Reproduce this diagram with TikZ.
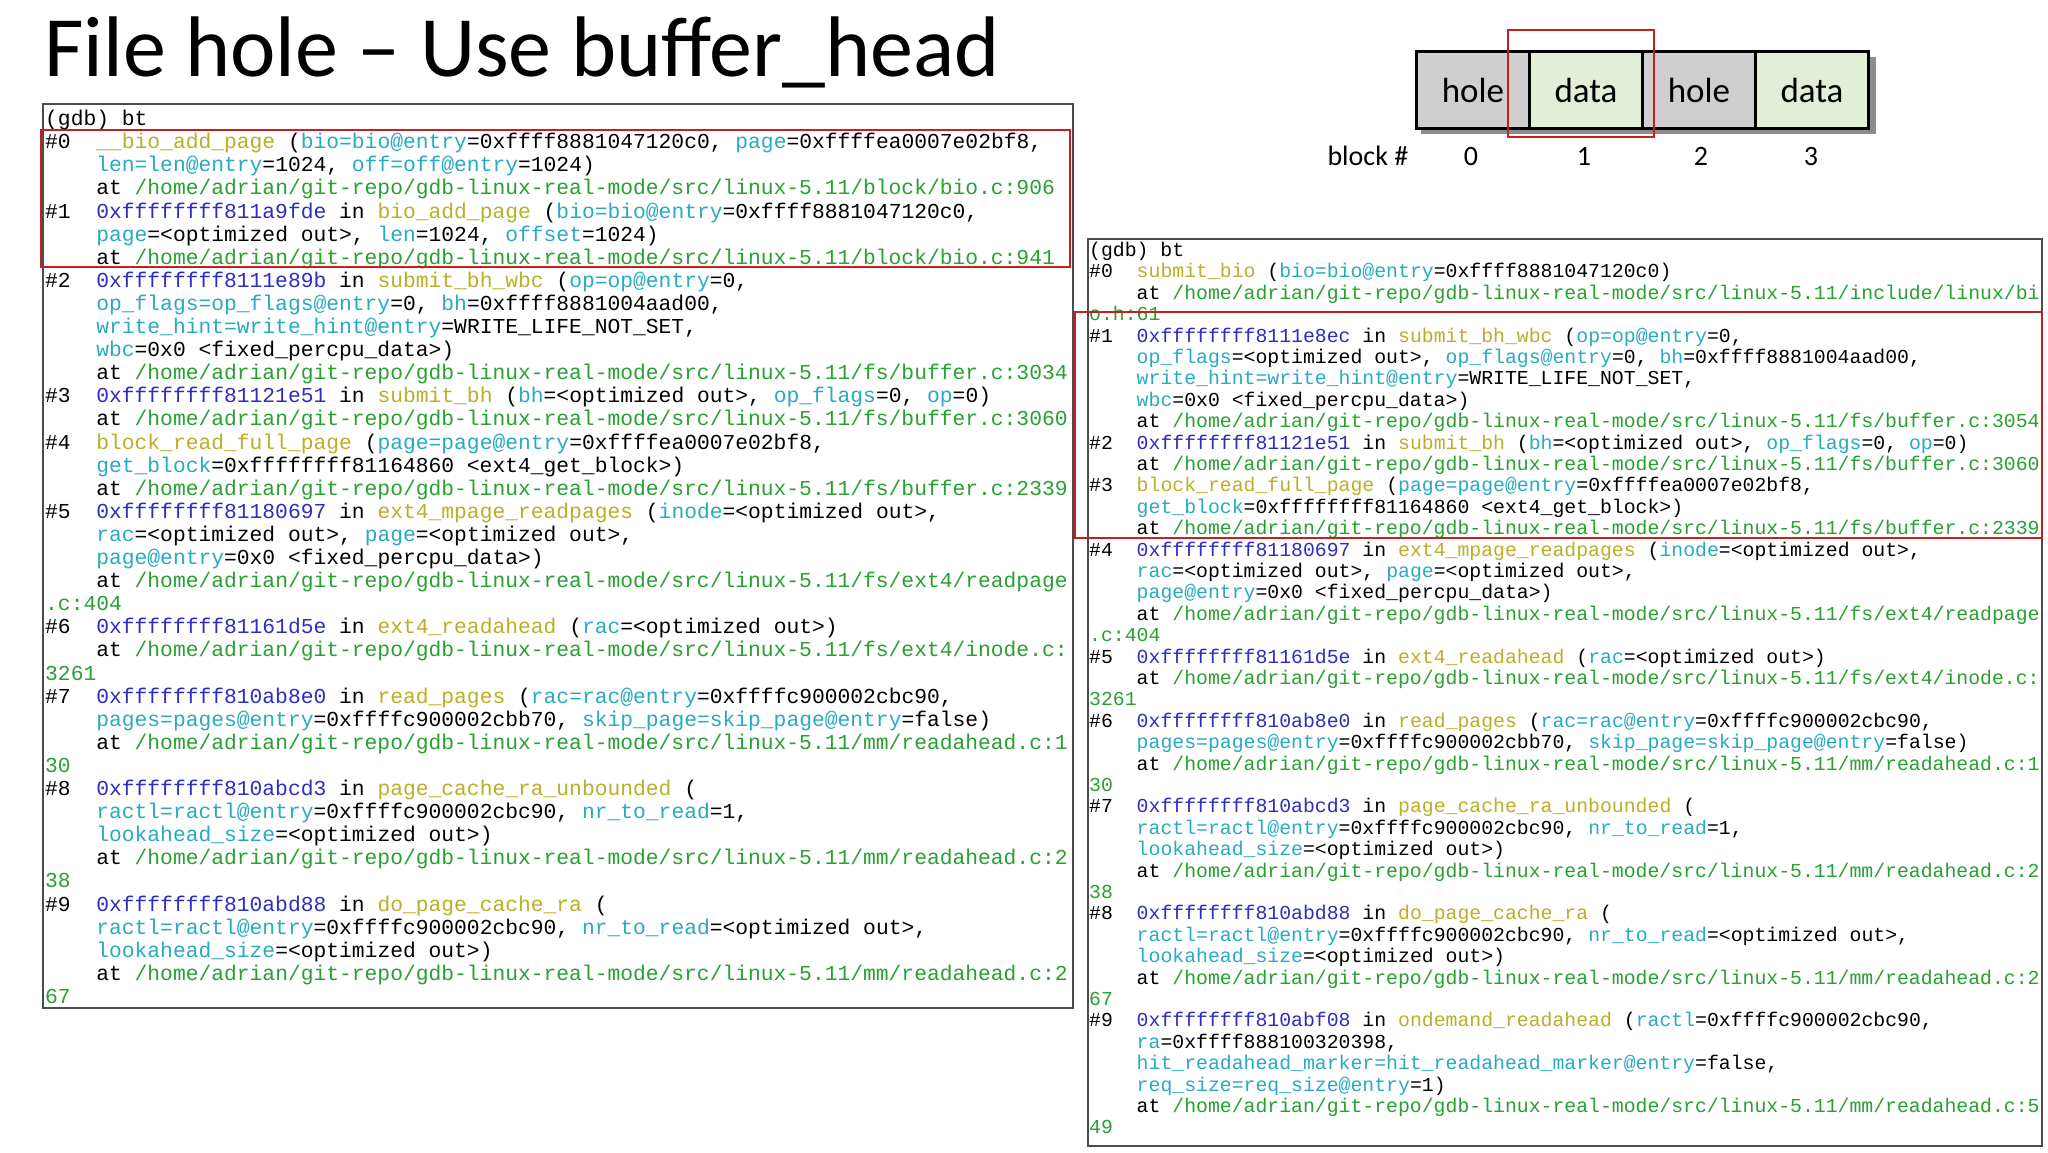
\documentclass[tikz,border=0pt]{standalone}
\usepackage{fontspec}
\setmainfont{Carlito}
\newfontfamily\codefont{Liberation Mono}
\definecolor{fnc}{RGB}{185,175,40}
\definecolor{pac}{RGB}{40,170,195}
\definecolor{adc}{RGB}{45,45,190}
\definecolor{ptc}{RGB}{40,160,50}
\definecolor{redc}{RGB}{200,30,30}
\definecolor{holec}{RGB}{207,207,207}
\definecolor{datac}{RGB}{226,238,213}
\newcommand\F[1]{\textcolor{fnc}{#1}}
\newcommand\A[1]{\textcolor{adc}{#1}}
\newcommand\V[1]{\textcolor{pac}{#1}}
\newcommand\G[1]{\textcolor{ptc}{#1}}
\newcommand\atp[1]{at \textcolor{ptc}{/home/adrian/git-repo/gdb-linux-real-mode/src/linux-5.11/#1}}
\newcommand\I{\phantom{xxxx}}
\newcommand\N[1]{\#{#1}\phantom{xx}}
\newcommand\opt{<optimized out>}
\begin{document}
\begin{tikzpicture}[x=1pt,y=-1pt,
  panel/.style={draw=black!70,line width=1.2pt},
  hl/.style={draw=redc,line width=1.6pt},
  codetext/.style={anchor=north west,inner sep=0pt,align=left},
  cell/.style={draw=black,line width=3pt,minimum width=113pt,minimum height=77pt,inner sep=0pt,anchor=north west,font=\fontsize{35}{38}\selectfont},
  lbl/.style={font=\fontsize{28}{30}\selectfont,anchor=base}]
\useasboundingbox (0,0) rectangle (2048,1152);
\fill[white] (0,0) rectangle (2048,1152);
\node[anchor=base west,inner sep=0pt,font=\fontsize{86}{90}\selectfont] (title) at (44,76) {File hole -- Use buffer\_head};
% blocks
\fill[black!45] (1421,57) rectangle (1876,134);
\node[cell,fill=holec] (c0) at (1415,50) {hole};
\node[cell,fill=datac] (c1) at (1528,50) {data};
\node[cell,fill=holec] (c2) at (1641,50) {hole};
\node[cell,fill=datac] (c3) at (1754,50) {data};
\draw[hl] (1508,30) rectangle (1654,137);
\node[lbl,anchor=base west] (bn) at (1324,165) {block \#};
\node[lbl] (n0) at (1471,165) {0};
\node[lbl] (n1) at (1584,165) {1};
\node[lbl] (n2) at (1701,165) {2};
\node[lbl] (n3) at (1811,165) {3};
% left panel
\draw[panel] (43,104) rectangle (1073,1008);
\begin{scope}
\clip (43,104) rectangle (1073,1008);
\node[codetext,font=\codefont\fontsize{21.3}{23.1}\selectfont] (lt) at (45,110) {(gdb) bt\\
\N0\F{\_\_bio\_add\_page} (\V{bio=bio@entry}=0xffff8881047120c0, \V{page}=0xffffea0007e02bf8,\\
\I\V{len=len@entry}=1024, \V{off=off@entry}=1024)\\
\I\atp{block/bio.c:906}\\
\N1\A{0xffffffff811a9fde} in \F{bio\_add\_page} (\V{bio=bio@entry}=0xffff8881047120c0,\\
\I\V{page}=\opt, \V{len}=1024, \V{offset}=1024)\\
\I\atp{block/bio.c:941}\\
\N2\A{0xffffffff8111e89b} in \F{submit\_bh\_wbc} (\V{op=op@entry}=0,\\
\I\V{op\_flags=op\_flags@entry}=0, \V{bh}=0xffff8881004aad00,\\
\I\V{write\_hint=write\_hint@entry}=WRITE\_LIFE\_NOT\_SET,\\
\I\V{wbc}=0x0 <fixed\_percpu\_data>)\\
\I\atp{fs/buffer.c:3034}\\
\N3\A{0xffffffff81121e51} in \F{submit\_bh} (\V{bh}=\opt, \V{op\_flags}=0, \V{op}=0)\\
\I\atp{fs/buffer.c:3060}\\
\N4\F{block\_read\_full\_page} (\V{page=page@entry}=0xffffea0007e02bf8,\\
\I\V{get\_block}=0xffffffff81164860 <ext4\_get\_block>)\\
\I\atp{fs/buffer.c:2339}\\
\N5\A{0xffffffff81180697} in \F{ext4\_mpage\_readpages} (\V{inode}=\opt,\\
\I\V{rac}=\opt, \V{page}=\opt,\\
\I\V{page@entry}=0x0 <fixed\_percpu\_data>)\\
\I\atp{fs/ext4/readpage}\\
\G{.c:404}\\
\N6\A{0xffffffff81161d5e} in \F{ext4\_readahead} (\V{rac}=\opt)\\
\I\atp{fs/ext4/inode.c:}\\
\G{3261}\\
\N7\A{0xffffffff810ab8e0} in \F{read\_pages} (\V{rac=rac@entry}=0xffffc900002cbc90,\\
\I\V{pages=pages@entry}=0xffffc900002cbb70, \V{skip\_page=skip\_page@entry}=false)\\
\I\atp{mm/readahead.c:1}\\
\G{30}\\
\N8\A{0xffffffff810abcd3} in \F{page\_cache\_ra\_unbounded} (\\
\I\V{ractl=ractl@entry}=0xffffc900002cbc90, \V{nr\_to\_read}=1,\\
\I\V{lookahead\_size}=\opt)\\
\I\atp{mm/readahead.c:2}\\
\G{38}\\
\N9\A{0xffffffff810abd88} in \F{do\_page\_cache\_ra} (\\
\I\V{ractl=ractl@entry}=0xffffc900002cbc90, \V{nr\_to\_read}=\opt,\\
\I\V{lookahead\_size}=\opt)\\
\I\atp{mm/readahead.c:2}\\
\G{67}};
\end{scope}
\draw[hl] (41,130) rectangle (1070,267);
% right panel
\draw[panel] (1088,239) rectangle (2042,1146);
\begin{scope}
\clip (1088,239) rectangle (2042,1146);
\node[codetext,font=\codefont\fontsize{19.8}{21.4}\selectfont] (rt) at (1089,242) {(gdb) bt\\
\N0\F{submit\_bio} (\V{bio=bio@entry}=0xffff8881047120c0)\\
\I\atp{include/linux/bi}\\
\G{o.h:61}\\
\N1\A{0xffffffff8111e8ec} in \F{submit\_bh\_wbc} (\V{op=op@entry}=0,\\
\I\V{op\_flags}=\opt, \V{op\_flags@entry}=0, \V{bh}=0xffff8881004aad00,\\
\I\V{write\_hint=write\_hint@entry}=WRITE\_LIFE\_NOT\_SET,\\
\I\V{wbc}=0x0 <fixed\_percpu\_data>)\\
\I\atp{fs/buffer.c:3054}\\
\N2\A{0xffffffff81121e51} in \F{submit\_bh} (\V{bh}=\opt, \V{op\_flags}=0, \V{op}=0)\\
\I\atp{fs/buffer.c:3060}\\
\N3\F{block\_read\_full\_page} (\V{page=page@entry}=0xffffea0007e02bf8,\\
\I\V{get\_block}=0xffffffff81164860 <ext4\_get\_block>)\\
\I\atp{fs/buffer.c:2339}\\
\N4\A{0xffffffff81180697} in \F{ext4\_mpage\_readpages} (\V{inode}=\opt,\\
\I\V{rac}=\opt, \V{page}=\opt,\\
\I\V{page@entry}=0x0 <fixed\_percpu\_data>)\\
\I\atp{fs/ext4/readpage}\\
\G{.c:404}\\
\N5\A{0xffffffff81161d5e} in \F{ext4\_readahead} (\V{rac}=\opt)\\
\I\atp{fs/ext4/inode.c:}\\
\G{3261}\\
\N6\A{0xffffffff810ab8e0} in \F{read\_pages} (\V{rac=rac@entry}=0xffffc900002cbc90,\\
\I\V{pages=pages@entry}=0xffffc900002cbb70, \V{skip\_page=skip\_page@entry}=false)\\
\I\atp{mm/readahead.c:1}\\
\G{30}\\
\N7\A{0xffffffff810abcd3} in \F{page\_cache\_ra\_unbounded} (\\
\I\V{ractl=ractl@entry}=0xffffc900002cbc90, \V{nr\_to\_read}=1,\\
\I\V{lookahead\_size}=\opt)\\
\I\atp{mm/readahead.c:2}\\
\G{38}\\
\N8\A{0xffffffff810abd88} in \F{do\_page\_cache\_ra} (\\
\I\V{ractl=ractl@entry}=0xffffc900002cbc90, \V{nr\_to\_read}=\opt,\\
\I\V{lookahead\_size}=\opt)\\
\I\atp{mm/readahead.c:2}\\
\G{67}\\
\N9\A{0xffffffff810abf08} in \F{ondemand\_readahead} (\V{ractl}=0xffffc900002cbc90,\\
\I\V{ra}=0xffff888100320398,\\
\I\V{hit\_readahead\_marker=hit\_readahead\_marker@entry}=false,\\
\I\V{req\_size=req\_size@entry}=1)\\
\I\atp{mm/readahead.c:5}\\
\G{49}};
\end{scope}
\draw[hl] (1075,312) rectangle (2042,538);
\end{tikzpicture}
\end{document}
